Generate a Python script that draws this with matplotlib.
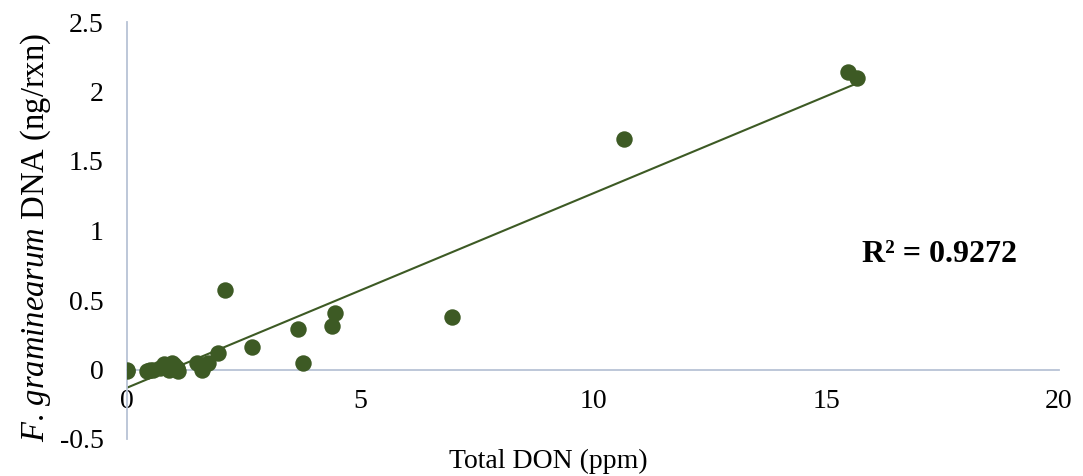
import numpy as np
import matplotlib
matplotlib.use("Agg")
import matplotlib.pyplot as plt

plt.rcParams['font.family'] = ['Liberation Serif', 'DejaVu Serif']
plt.rcParams['mathtext.fontset'] = 'custom'
plt.rcParams['mathtext.rm'] = 'Liberation Serif'
plt.rcParams['mathtext.it'] = 'Liberation Serif:italic'
plt.rcParams['mathtext.bf'] = 'Liberation Serif:bold'

# Data
don_ppm = [0.0, 0.0, 0.43, 0.50, 0.56, 0.70, 0.80, 0.86, 0.90, 0.97, 1.00, 1.07, 1.09,
           1.50, 1.61, 1.74, 1.95, 2.10, 2.68, 3.67, 3.78, 4.40, 4.46, 6.97,
           10.67, 15.47, 15.67]
fg_dna = [0.0, -0.01, -0.01, 0.0, 0.0, 0.01, 0.04, 0.02, 0.0, 0.05, 0.03, 0.01, -0.01,
          0.05, 0.0, 0.05, 0.12, 0.57, 0.16, 0.29, 0.05, 0.31, 0.41, 0.38,
          1.66, 2.14, 2.10]
x_ticks = [0, 5, 10, 15, 20]
y_ticks = [-0.5, 0, 0.5, 1, 1.5, 2, 2.5]
y_tick_labels = ["-0.5", "0", "0.5", "1", "1.5", "2", "2.5"]
r2_text = "R² = 0.9272"

green = "#3d5a24"
axis_col = "#b8c3d6"
fs = 20

fig = plt.figure(figsize=(10.83, 4.76), dpi=100)
ax = fig.add_axes([127/1083, 37/476, (1059-127)/1083, (439-22)/476])

ax.scatter(don_ppm, fg_dna, s=140, color=green, zorder=3, linewidths=0)

xa = np.array(don_ppm)
ya = np.array(fg_dna)
m, b = np.polyfit(xa, ya, 1)
xl = np.array([xa.min(), xa.max()])
ax.plot(xl, m * xl + b, color=green, lw=1.5, zorder=2)

ax.set_xlim(0, 20)
ax.set_ylim(-0.5, 2.5)
ax.set_xticks(x_ticks)
ax.set_xticklabels([str(t) for t in x_ticks])
ax.set_yticks(y_ticks)
ax.set_yticklabels(y_tick_labels)

for s in ['top', 'right']:
    ax.spines[s].set_visible(False)
ax.spines['bottom'].set_position(('data', 0))
ax.spines['bottom'].set_color(axis_col)
ax.spines['left'].set_color(axis_col)
ax.spines['bottom'].set_linewidth(1.3)
ax.spines['left'].set_linewidth(1.3)
ax.tick_params(axis='x', length=0, pad=14, labelsize=fs)
ax.tick_params(axis='y', length=0, pad=17, labelsize=fs)

ax.text(15.77, 0.83, r2_text, fontsize=23, fontweight='bold', ha='left', va='center')

fig.text(548/1083, 1 - 461/476, "Total DON (ppm)", fontsize=fs, ha='center', va='center')
fig.text(36/1083, 1 - 237/476, r"$\mathit{F.\,graminearum}$ DNA (ng/rxn)", fontsize=23.5,
         rotation=90, ha='center', va='center')

fig.savefig("out.png", dpi=100)
